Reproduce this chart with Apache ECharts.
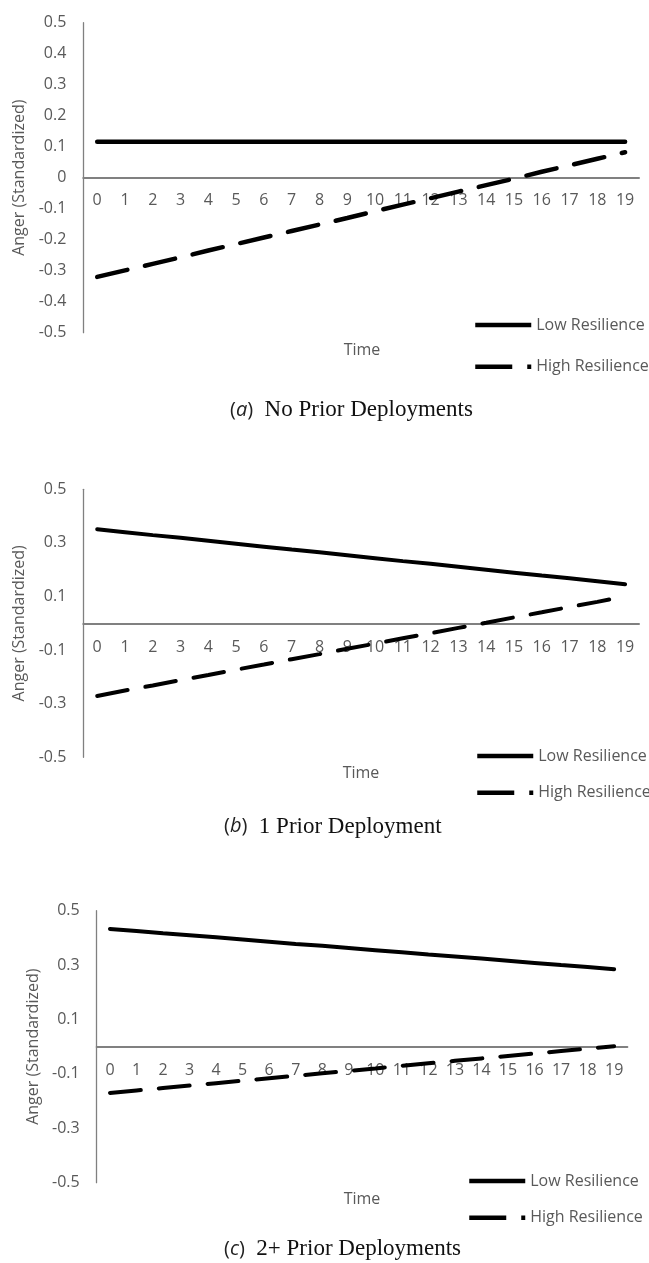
<!DOCTYPE html>
<html>
<head>
<meta charset="utf-8">
<script src="https://cdn.jsdelivr.net/npm/echarts@6/dist/echarts.min.js"></script>
<style>
html,body{margin:0;padding:0;background:#fff;}
#c{width:649px;height:1263px;}
</style>
</head>
<body>
<div id="c"></div>
<script>
// ---- data ----
const timePoints = ['0','1','2','3','4','5','6','7','8','9','10','11','12','13','14','15','16','17','18','19'];
const seriesNames = ['Low Resilience', 'High Resilience'];

// (a) No Prior Deployments
const lowA  = [0.116,0.116,0.116,0.116,0.116,0.116,0.116,0.116,0.116,0.116,0.116,0.116,0.116,0.116,0.116,0.116,0.116,0.116,0.116,0.116];
const highA = [-0.320,-0.299,-0.278,-0.257,-0.235,-0.214,-0.193,-0.172,-0.151,-0.130,-0.108,-0.087,-0.066,-0.045,-0.024,-0.003,0.019,0.040,0.061,0.082];
// (b) 1 Prior Deployment
const lowB  = [0.351,0.340,0.329,0.319,0.308,0.297,0.286,0.275,0.265,0.254,0.243,0.232,0.222,0.211,0.200,0.189,0.178,0.168,0.157,0.146];
const highB = [-0.271,-0.251,-0.232,-0.212,-0.193,-0.173,-0.154,-0.134,-0.115,-0.095,-0.076,-0.056,-0.037,-0.017,0.002,0.022,0.041,0.061,0.080,0.100];
// (c) 2+ Prior Deployments
const lowC  = [0.433,0.425,0.417,0.410,0.402,0.394,0.386,0.378,0.371,0.363,0.355,0.347,0.339,0.332,0.324,0.316,0.308,0.300,0.293,0.285];
const highC = [-0.170,-0.161,-0.152,-0.143,-0.134,-0.125,-0.116,-0.107,-0.098,-0.089,-0.080,-0.070,-0.061,-0.052,-0.043,-0.034,-0.025,-0.016,-0.007,0.002];

const yTicksA = ['0.5','0.4','0.3','0.2','0.1','0','-0.1','-0.2','-0.3','-0.4','-0.5'];
const yTicksBC = ['0.5','0.3','0.1','-0.1','-0.3','-0.5'];
const yAxisTitle = 'Anger (Standardized)';
const xAxisTitle = 'Time';
const panelLetters = ['a','b','c'];
const panelCaptions = ['No Prior Deployments','1 Prior Deployment','2+ Prior Deployments'];

// ---- layout ----
const SANS = "'Open Sans', 'Liberation Sans', sans-serif";
const SERIF = "'Liberation Serif', 'DejaVu Serif', serif";
const GRAY = '#595959';
const AXIS = '#808080';

const panels = [
  {grid:{left:83.3, right:10, top:22.7, height:310}, interval:0.1, low:lowA, high:highA, lw:4.5, labelMargin:15, nameGap:56,
   legendLeft:473, lowY:325, highY:366.7, timeX:362, timeY:350.7, capX:230, capY:410},
  {grid:{left:83.3, right:10, top:489.3, height:268}, interval:0.2, low:lowB, high:highB, lw:4, labelMargin:16, nameGap:56,
   legendLeft:475, lowY:756, highY:792.7, timeX:361, timeY:773, capX:224, capY:826.7},
  {grid:{left:96.7, right:21.6, top:910.7, height:272}, interval:0.2, low:lowC, high:highC, lw:4, labelMargin:16, nameGap:54,
   legendLeft:467, lowY:1181, highY:1217.7, timeX:362, timeY:1199, capX:224, capY:1249}
];

const fmt = v => { const r = Math.round(v*10)/10; return (r === 0 ? 0 : r).toString(); };

const option = {
  animation:false,
  backgroundColor:'#fff',
  grid:[], xAxis:[], yAxis:[], series:[], legend:[], graphic:[]
};

const legendCommon = (left, top) => ({
  orient:'vertical', left:left, top:top, padding:0,
  itemWidth:56, itemHeight:14, selectedMode:false,
  itemStyle:{opacity:0, borderWidth:0},
  textStyle:{color:GRAY, fontSize:16, fontFamily:SANS}
});

panels.forEach((p, i) => {
  option.grid.push(Object.assign({containLabel:false}, p.grid));
  option.xAxis.push({
    type:'category', gridIndex:i, data:timePoints, boundaryGap:true,
    position:'bottom', offset:-p.grid.height/2,
    axisLine:{show:true, onZero:false, lineStyle:{color:AXIS, width:2}},
    axisTick:{show:false},
    axisLabel:{interval:0, color:GRAY, fontSize:16, fontFamily:SANS, margin:p.labelMargin},
    splitLine:{show:false}
  });
  option.yAxis.push({
    type:'value', gridIndex:i, min:-0.5, max:0.5, interval:p.interval,
    name:yAxisTitle, nameLocation:'middle', nameGap:p.nameGap, nameRotate:90,
    nameTextStyle:{color:GRAY, fontSize:16, fontFamily:SANS},
    axisLine:{show:true, lineStyle:{color:AXIS, width:1.3}},
    axisTick:{show:false},
    axisLabel:{color:GRAY, fontSize:16, fontFamily:SANS, margin:17, formatter:fmt},
    splitLine:{show:false}
  });
  option.series.push({
    type:'line', name:seriesNames[0], xAxisIndex:i, yAxisIndex:i, data:p.low,
    symbol:'none', silent:true,
    lineStyle:{color:'#000', width:p.lw, cap:'round'}
  });
  option.series.push({
    type:'line', name:seriesNames[1], xAxisIndex:i, yAxisIndex:i, data:p.high,
    symbol:'none', silent:true,
    lineStyle:{color:'#000', width:p.lw, type:[31,18], cap:'round'}
  });
  option.legend.push(Object.assign(legendCommon(p.legendLeft, p.lowY-8), {
    data:[{name:seriesNames[0], lineStyle:{color:'#000', width:4.5, type:'solid', cap:'butt'}}]
  }));
  option.legend.push(Object.assign(legendCommon(p.legendLeft, p.highY-8), {
    data:[{name:seriesNames[1], lineStyle:{color:'#000', width:4.5, type:[37,15], cap:'butt'}}]
  }));
  option.graphic.push({
    type:'text', x:p.timeX, y:p.timeY, silent:true,
    style:{text:xAxisTitle, fill:GRAY, font:'16px ' + SANS, textAlign:'center', textVerticalAlign:'middle'}
  });
  option.graphic.push({
    type:'text', x:p.capX, y:p.capY, silent:true,
    style:{
      text:'{p|(}{l|' + panelLetters[i] + '}{p|)}{s|  ' + panelCaptions[i] + '}',
      textAlign:'left', textVerticalAlign:'middle',
      rich:{
        p:{fontFamily:SANS, fontSize:20, fill:'#222', verticalAlign:'middle'},
        l:{fontFamily:SANS, fontSize:20, fontStyle:'italic', fill:'#222', verticalAlign:'middle'},
        s:{fontFamily:SERIF, fontSize:23, fill:'#111', verticalAlign:'middle'}
      }
    }
  });
});

const chart = echarts.init(document.getElementById('c'), null, {renderer:'canvas'});
chart.setOption(option);
</script>
</body>
</html>
